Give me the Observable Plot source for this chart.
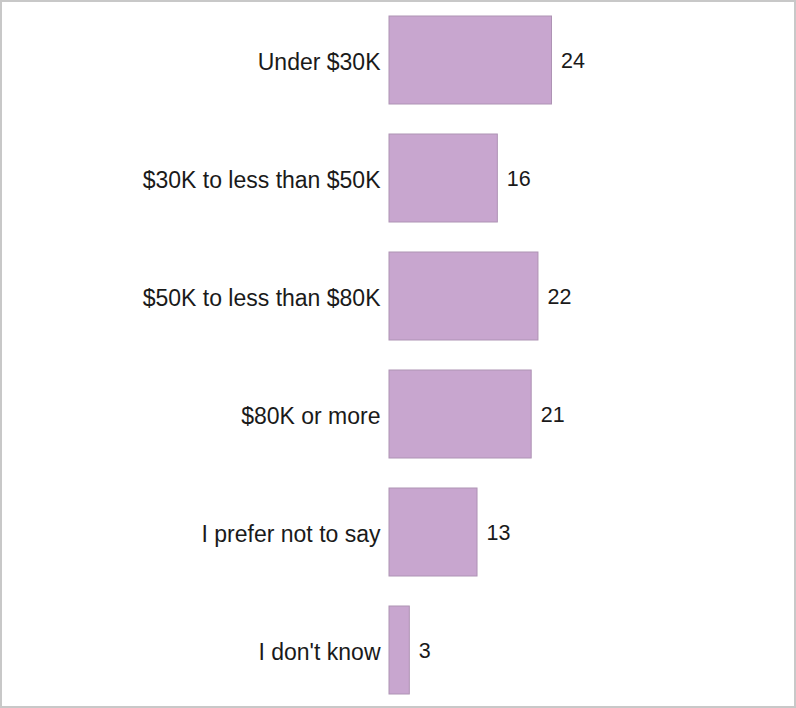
<!DOCTYPE html>
<html>
<head>
<meta charset="utf-8">
<script src="https://cdn.jsdelivr.net/npm/d3@7"></script>
<script src="https://cdn.jsdelivr.net/npm/@observablehq/plot@0.6"></script>
<style>
  html, body { margin: 0; padding: 0; background: #fff; }
  #wrap { position: relative; width: 796px; height: 708px; overflow: hidden; }
  #frame { position: absolute; left: 0; top: 0; width: 796px; height: 708px; box-sizing: border-box;
           border: 2px solid #c8c8c8; pointer-events: none; }
  #chart svg { display: block; }
</style>
</head>
<body>
<div id="wrap"><div id="chart"></div><div id="frame"></div></div>
<script>
const categories = ["Under $30K", "$30K to less than $50K", "$50K to less than $80K", "$80K or more", "I prefer not to say", "I don't know"];
const values = [24, 16, 22, 21, 13, 3];

const data = categories.map((c, i) => ({category: c, value: values[i]}));

const chart = Plot.plot({
  width: 796,
  height: 708,
  marginTop: 0,
  marginBottom: 0,
  marginLeft: 0,
  marginRight: 0,
  style: {fontFamily: "Liberation Sans, Arial, sans-serif", background: "#fff"},
  x: {domain: [0, 24], range: [389, 551.5], axis: null},
  y: {domain: categories, range: [1, 709], paddingInner: 0.254, paddingOuter: 0.127, axis: null},
  marks: [
    Plot.barX(data, {x: "value", y: "category", fill: "#c8a6cf", stroke: "#ae93b4", strokeWidth: 1}),
    Plot.text(data, {x: 0, y: "category", text: "category", textAnchor: "end", dx: -9, dy: 2,
      fontSize: 23, fill: "#1a1a1a"}),
    Plot.text(data, {x: "value", y: "category", text: d => String(d.value), textAnchor: "start", dx: 9, dy: 1,
      fontSize: 21.5, fill: "#1a1a1a"})
  ]
});
document.getElementById("chart").appendChild(chart);
</script>
</body>
</html>
